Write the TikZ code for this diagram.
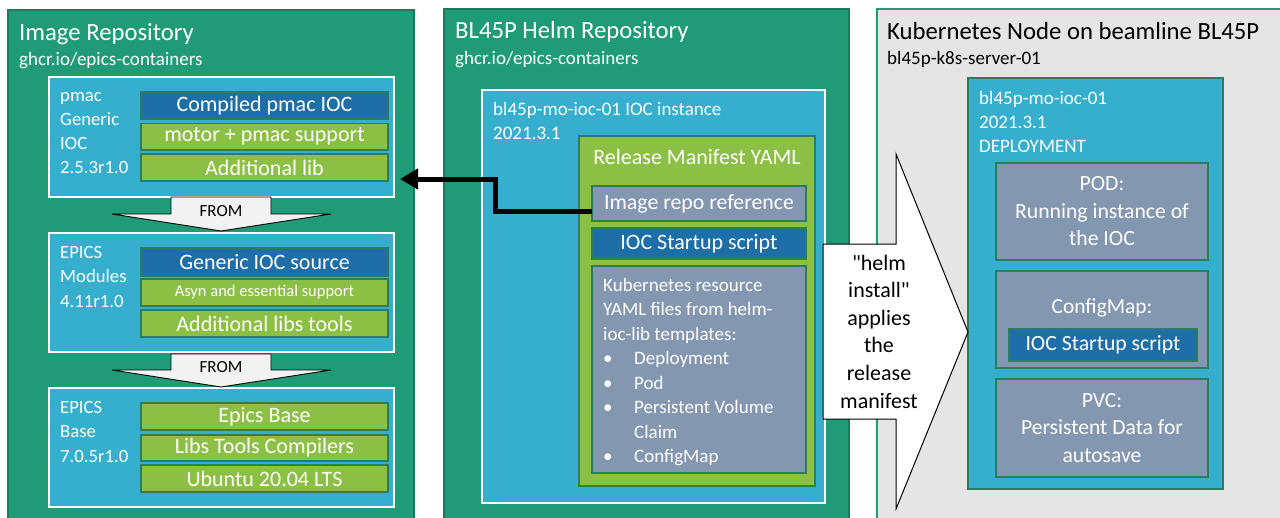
\documentclass[tikz,border=0pt]{standalone}
\usepackage{fontspec}
\setmainfont{Carlito}
\usetikzlibrary{arrows.meta}
\definecolor{pgreen}{HTML}{1F9B77}
\definecolor{lblue}{HTML}{36AFCF}
\definecolor{dblue}{HTML}{1E6EA8}
\definecolor{lime}{HTML}{8BC044}
\definecolor{slate}{HTML}{8497B0}
\definecolor{lgray}{HTML}{E5E5E5}
\definecolor{bord}{HTML}{2A7D5E}
\definecolor{fromgray}{HTML}{F2F2F2}
\newcommand{\fsz}[2]{\fontsize{#1}{#2}\selectfont}
\begin{document}
\begin{tikzpicture}[x=1pt,y=-1pt,
  box/.style={draw=bord, line width=1.2pt, inner sep=0pt, outer sep=0pt, text=white, align=center},
  panel/.style={box, fill=pgreen, draw=pgreen!80!black},
  ibox/.style={box, fill=lblue, draw=white},
  lbar/.style={box, fill=lime, font=\fsz{22}{26}},
  dbar/.style={box, fill=dblue, font=\fsz{22}{26}},
  gbox/.style={box, fill=slate},
  ttl/.style={text=white, inner sep=0pt, anchor=base west, font=\fsz{24.7}{30}},
  sub/.style={text=white, inner sep=0pt, anchor=base west, font=\fsz{19}{22}},
  lbl/.style={text=white, inner sep=0pt, anchor=north west, align=left},
  fromarrow/.style={fill=fromgray, draw=black, line width=0.9pt, line join=miter},
  conn/.style={draw=black, line width=5pt, -{Triangle[length=18pt,width=20pt]}},
]
\clip (0,0) rectangle (1280,517);
\fill[white] (0,0) rectangle (1280,517);

% ===== Left panel
\node[panel, minimum width=406, minimum height=520] (lp) at (211,270) {};
\node[ttl] (lpt) at (19,40.5) {Image Repository};
\node[sub] (lps) at (19,65.5) {ghcr.io/epics-containers};

\node[ibox, minimum width=345, minimum height=120] (pmac) at (221.5,137) {};
\node[lbl, font=\fsz{18.7}{24}] (pmacl) at (60,84.2) {\strut pmac\\\strut Generic\\\strut IOC\\\strut 2.5.3r1.0};
\node[dbar, minimum width=247, minimum height=27] (b11) at (264.5,105.5) {Compiled pmac IOC};
\node[lbar, minimum width=247, minimum height=26.5] (b12) at (264.5,136.75) {motor + pmac support};
\node[lbar, minimum width=247, minimum height=27] (b13) at (264.5,167.5) {Additional lib};

\node[ibox, minimum width=345, minimum height=119] (mod) at (221.5,292.5) {};
\node[lbl, font=\fsz{18.7}{24.5}] (modl) at (60,240.8) {\strut EPICS\\\strut Modules\\\strut 4.11r1.0};
\node[dbar, minimum width=247, minimum height=28] (b21) at (264.5,262) {Generic IOC source};
\node[lbar, minimum width=247, minimum height=27, font=\fsz{16.5}{20}] (b22) at (264.5,292.5) {Asyn and essential support};
\node[lbar, minimum width=247, minimum height=27] (b23) at (264.5,323.5) {Additional libs tools};

\node[ibox, minimum width=345, minimum height=119] (base) at (221.5,447.5) {};
\node[lbl, font=\fsz{18.7}{24.5}] (basel) at (60,395.8) {\strut EPICS\\\strut Base\\\strut 7.0.5r1.0};
\node[lbar, minimum width=247, minimum height=27] (b31) at (264.5,416.5) {Epics Base};
\node[lbar, minimum width=247, minimum height=26] (b32) at (264.5,448) {Libs Tools Compilers};
\node[lbar, minimum width=247, minimum height=27] (b33) at (264.5,478.5) {Ubuntu 20.04 LTS};

\draw[fromarrow] (171,197) -- (271,197) -- (271,214) -- (331,214) -- (221,231) -- (112,214) -- (171,214) -- cycle;
\node[inner sep=0pt, anchor=base, font=\fsz{17}{20}] (from1) at (221,216.5) {FROM};
\draw[fromarrow] (171,354) -- (271,354) -- (271,370) -- (331,370) -- (221,387) -- (112,370) -- (171,370) -- cycle;
\node[inner sep=0pt, anchor=base, font=\fsz{17}{20}] (from2) at (221,372.5) {FROM};

% ===== Middle panel
\node[panel, minimum width=405, minimum height=521] (mp) at (646.5,269.5) {};
\node[ttl] (mpt) at (455,38.5) {BL45P Helm Repository};
\node[sub] (mps) at (455,64) {ghcr.io/epics-containers};

\node[ibox, minimum width=343, minimum height=413] (inst) at (653.5,296.5) {};
\node[lbl, font=\fsz{19}{24}] (instl) at (493,98.2) {\strut bl45p-mo-ioc-01 IOC instance\\\strut 2021.3.1};
\node[box, fill=lime, minimum width=236, minimum height=350] (rel) at (697,311) {};
\node[inner sep=0pt, anchor=base, text=white, font=\fsz{22}{26}] (relt) at (697,164) {Release Manifest YAML};
\node[gbox, minimum width=214, minimum height=35, font=\fsz{21.8}{25}] (imgref) at (699,203.5) {Image repo reference};
\node[dbar, minimum width=214, minimum height=31, font=\fsz{22}{25}] (iocs) at (699,243.5) {IOC Startup script};
\node[gbox, minimum width=214, minimum height=207] (k8s) at (699,369.5) {};
\node[lbl, font=\fsz{19}{24.5}] (k8sl) at (603,273.9) {\strut Kubernetes resource\\\strut YAML files from helm-\\\strut ioc-lib templates:\\
  \strut\makebox[31pt][l]{•}Deployment\\\strut\makebox[31pt][l]{•}Pod\\\strut\makebox[31pt][l]{•}Persistent Volume\\
  \strut\hspace*{31pt}Claim\\\strut\makebox[31pt][l]{•}ConfigMap};

% ===== Right panel
\node[box, fill=lgray, draw=pgreen, minimum width=413, minimum height=521] (rp) at (1083.5,269.5) {};
\node[ttl, text=black] (rpt) at (887,39.5) {Kubernetes Node on beamline BL45P};
\node[sub, text=black] (rps) at (887,64) {bl45p-k8s-server-01};

\node[box, fill=lblue, minimum width=255, minimum height=411] (dep) at (1095.5,283.5) {};
\node[lbl, font=\fsz{19}{24}] (depl) at (979,87.2) {\strut bl45p-mo-ioc-01\\\strut 2021.3.1\\\strut DEPLOYMENT};
\node[gbox, minimum width=212, minimum height=97, font=\fsz{21.7}{27.5}] (pod) at (1102,211.5) {POD:\\Running instance of\\the IOC};
\node[gbox, minimum width=212, minimum height=97] (cm) at (1102,319.5) {};
\node[inner sep=0pt, anchor=base, text=white, font=\fsz{21.4}{25}] (cmt) at (1102,313) {ConfigMap:};
\node[dbar, minimum width=188, minimum height=32, font=\fsz{21.7}{25}] (cmios) at (1103,345) {IOC Startup script};
\node[gbox, minimum width=212, minimum height=98, font=\fsz{21.6}{27.5}] (pvc) at (1102,428) {PVC:\\Persistent Data for\\autosave};

% ===== Connector from image repo reference to pmac image
\coordinate (tipA) at (400,179);
\draw[conn] ([yshift=-7.5pt]imgref.west) -- ++(-97,0) |- (tipA);

% ===== Big "helm install" arrow
\draw[fill=white, draw=black, line width=1pt, line join=miter]
  (823,244) -- (896,244) -- (896,154) -- (968,332) -- (896,509) -- (896,419) -- (823,419) -- cycle;
\node[inner sep=0pt, anchor=north, align=center, font=\fsz{22}{27.6}] (helm) at (879,250.6)
  {\strut \textquotedbl helm\\\strut install\textquotedbl\\\strut applies\\\strut the\\\strut release\\\strut manifest};
\end{tikzpicture}
\end{document}
